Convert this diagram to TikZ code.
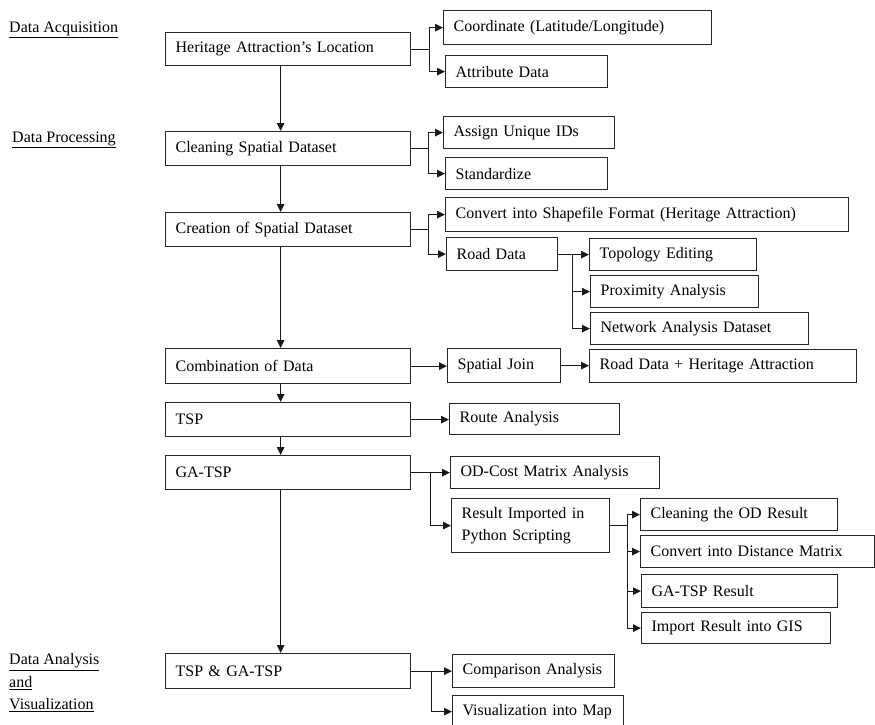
\documentclass[tikz,border=0pt]{standalone}
\usepackage{fontspec}
\setmainfont{Liberation Serif}
\usetikzlibrary{arrows.meta}
\tikzset{
  box/.style={draw=black!85, line width=1.2pt, anchor=north west, align=left, inner xsep=10pt, inner ysep=2pt},
  mainbox/.style={box, text width=225pt},
  arr/.style={-{Triangle[length=8pt,width=7.5pt]}, line width=1.1pt, black!90},
  stage/.style={anchor=west, inner sep=0pt, align=left}
}
\begin{document}
\begin{tikzpicture}[x=1pt,y=-1pt,font=\fontsize{16}{22.5}\selectfont]
    \useasboundingbox (0,0) rectangle (875,725);

    % Stage labels
    \node[stage] (acq) at (9,30) {\underline{Data Acquisition}};
    \node[stage] (proc) at (12,140) {\underline{Data Processing}};
    \node[stage] (anal) at (9,683) {\underline{Data Analysis}\\\underline{and}\\\underline{Visualization}};

    % Main column
    \node[mainbox,minimum height=33pt] (heritage) at (165,32) {Heritage Attraction’s Location};
    \node[mainbox,minimum height=34pt] (cleaning) at (165,131) {Cleaning Spatial Dataset};
    \node[mainbox,minimum height=34pt] (creation) at (165,212) {Creation of Spatial Dataset};
    \node[mainbox,minimum height=35pt] (combination) at (165,348) {Combination of Data};
    \node[mainbox,minimum height=34pt] (tsp) at (165,402) {TSP};
    \node[mainbox,minimum height=34pt] (gatsp) at (165,455) {GA-TSP};
    \node[mainbox,minimum height=35pt] (both) at (165,653) {TSP \& GA-TSP};

    % Side boxes
    \node[box,text width=248pt,minimum height=34pt] (coord) at (443,10) {Coordinate (Latitude/Longitude)};
    \node[box,text width=142pt,minimum height=32pt] (attr) at (445,55) {Attribute Data};
    \node[box,text width=151pt,minimum height=32pt] (assign) at (443,116) {Assign Unique IDs};
    \node[box,text width=142pt,minimum height=32pt] (standard) at (445,157) {Standardize};
    \node[box,text width=383pt,minimum height=34pt] (shapefile) at (445,197) {Convert into Shapefile Format (Heritage Attraction)};
    \node[box,text width=91pt,minimum height=33pt] (road) at (446,237) {Road Data};
    \node[box,text width=147pt,minimum height=32pt] (topo) at (589,238) {Topology Editing};
    \node[box,text width=148pt,minimum height=32pt] (proxim) at (590,275) {Proximity Analysis};
    \node[box,text width=198pt,minimum height=32pt] (network) at (590,312) {Network Analysis Dataset};
    \node[box,text width=93pt,minimum height=34pt] (join) at (447,348) {Spatial Join};
    \node[box,text width=247pt,minimum height=33pt] (roadheri) at (589,349) {Road Data + Heritage Attraction};
    \node[box,text width=150pt,minimum height=31pt] (route) at (449,403) {Route Analysis};
    \node[box,text width=189pt,minimum height=32pt] (odcost) at (450,456) {OD-Cost Matrix Analysis};
    \node[box,text width=138pt,minimum height=54pt] (imported) at (451,498) {Result Imported in\\Python Scripting};
    \node[box,text width=177pt,minimum height=32pt] (cleanod) at (640,498) {Cleaning the OD Result};
    \node[box,text width=214pt,minimum height=32pt] (distmat) at (640,535) {Convert into Distance Matrix};
    \node[box,text width=176pt,minimum height=33pt] (garesult) at (641,574) {GA-TSP Result};
    \node[box,text width=169pt,minimum height=31pt] (gis) at (641,612) {Import Result into GIS};
    \node[box,text width=142pt,minimum height=33pt] (compare) at (452,654) {Comparison Analysis};
    \node[box,text width=151pt,minimum height=32pt] (vismap) at (452,695) {Visualization into Map};

    % Vertical flow
    \draw[arr] ([xshift=-7.5pt]heritage.south) -- ([xshift=-7.5pt]cleaning.north);
    \draw[arr] ([xshift=-7.5pt]cleaning.south) -- ([xshift=-7.5pt]creation.north);
    \draw[arr] ([xshift=-7.5pt]creation.south) -- ([xshift=-7.5pt]combination.north);
    \draw[arr] ([xshift=-7.5pt]combination.south) -- ([xshift=-7.5pt]tsp.north);
    \draw[arr] ([xshift=-7.5pt]tsp.south) -- ([xshift=-7.5pt]gatsp.north);
    \draw[arr] ([xshift=-7.5pt]gatsp.south) -- ([xshift=-7.5pt]both.north);

    % Branches
    \foreach \t in {coord,attr}
        \draw[arr] (heritage.east) -- ++(18,0) |- (\t.west);
    \foreach \t in {assign,standard}
        \draw[arr] (cleaning.east) -- ++(17,0) |- (\t.west);
    \foreach \t in {shapefile,road}
        \draw[arr] (creation.east) -- ++(17,0) |- (\t.west);
    \foreach \t in {topo,proxim,network}
        \draw[arr] (road.east) -- ++(14,0) |- (\t.west);
    \draw[arr] (combination.east) -- (combination.east -| join.west);
    \draw[arr] (join.east) -- (join.east -| roadheri.west);
    \draw[arr] (tsp.east) -- (tsp.east -| route.west);
    \foreach \t in {odcost,imported}
        \draw[arr] (gatsp.east) -- ++(19,0) |- (\t.west);
    \foreach \t in {cleanod,distmat,garesult,gis}
        \draw[arr] (imported.east) -- ++(17,0) |- (\t.west);
    \foreach \t in {compare,vismap}
        \draw[arr] (both.east) -- ++(20,0) |- (\t.west);
\end{tikzpicture}
\end{document}
